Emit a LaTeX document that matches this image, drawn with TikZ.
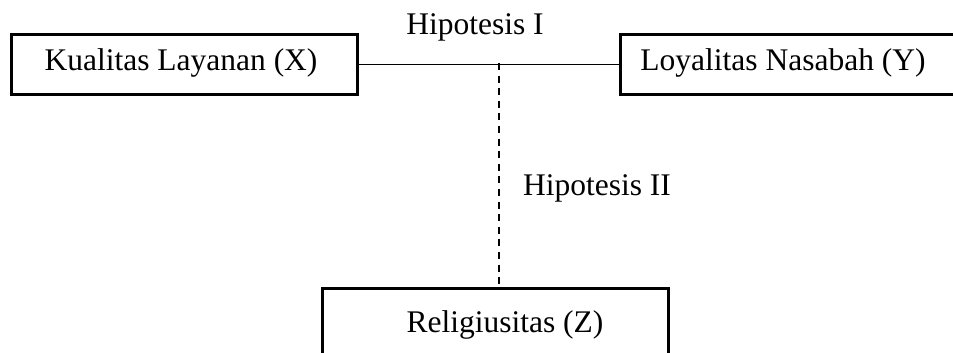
\documentclass[tikz,border=0pt]{standalone}
\usepackage{fontspec}
\setmainfont{Liberation Serif}
\begin{document}
\begin{tikzpicture}[x=0.5pt,y=-0.5pt,
  box/.style={draw, line width=1.4pt, inner sep=0pt, anchor=north west},
  lbl/.style={inner sep=0pt, font=\fontsize{15.75}{18}\selectfont},
  conn/.style={line width=0.8pt},
  dconn/.style={line width=1.2pt, dash pattern=on 3.5pt off 2.8pt}]
\useasboundingbox (0,0) rectangle (953,353);
\clip (0,0) rectangle (953,353);
% boxes
\node[box, minimum width=173pt, minimum height=30pt] (x) at (10,33) {};
\node[box, minimum width=200pt, minimum height=30pt] (y) at (619,33) {};
\node[box, minimum width=173pt, minimum height=60pt] (z) at (321,287) {};
% texts
\node[lbl] (xt) at (181,63) {Kualitas Layanan (X)};
\node[lbl] (yt) at (783,63) {Loyalitas Nasabah (Y)};
\node[lbl] (zt) at (505,325) {Religiusitas (Z)};
\node[lbl] (h1) at (475,27) {Hipotesis I};
\node[lbl] (h2) at (597,188) {Hipotesis II};
% connectors
\coordinate (m) at (499,63);
\draw[conn] (x.east) -- (y.west);
\draw[dconn] (m) -- (m |- z.north);
\end{tikzpicture}
\end{document}
